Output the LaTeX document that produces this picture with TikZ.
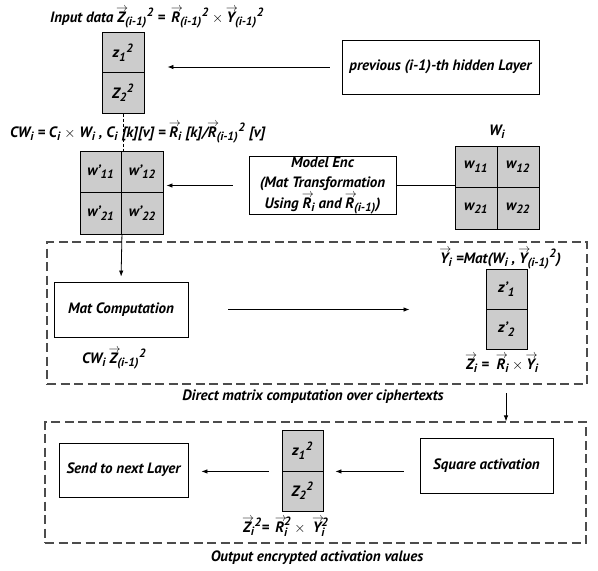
\documentclass[tikz,border=0pt]{standalone}
\usepackage{amsmath}
\usepackage{fontspec}
\setmainfont{PT Sans}
\usetikzlibrary{arrows.meta}
\DeclareMathSizes{15}{15}{12}{9}
\newcommand{\va}[1]{\text{\ooalign{#1\cr\hidewidth\kern2pt\raisebox{10.5pt}[0pt][0pt]{\fontsize{12}{12}\selectfont$\mathord{\rightarrow}$}\hidewidth\cr}}}
\newcommand{\ff}{\fontsize{15}{17}\selectfont\bfseries\itshape}
\newcommand{\fft}{\fontsize{15}{20.5}\selectfont\bfseries\itshape}
\begin{document}
\begin{tikzpicture}[x=1pt,y=-1pt,
  box/.style={draw, line width=0.9pt, inner sep=0pt, align=center, font=\ff},
  cell/.style={draw, line width=0.9pt, fill=black!20, inner sep=0pt, font=\ff},
  dbox/.style={draw=black!70, line width=1.2pt, dash pattern=on 9pt off 4.5pt, inner sep=0pt},
  lbl/.style={inner sep=0pt, font=\ff},
  arr/.style={-{Latex[length=6pt,width=4.5pt]}, line width=0.8pt},
  ln/.style={line width=0.8pt}]
\useasboundingbox (0,0) rectangle (598,571);
% groups
\node[dbox, minimum width=540pt, minimum height=142pt] (grp1) at (317,313) {};
\node[dbox, minimum width=541pt, minimum height=121pt] (grp2) at (315.5,482.5) {};
% top input vector
\node[lbl, anchor=base west] (inlbl) at (50,22) {Input data $\va{Z}_{\text{(i-1)}}{}^{\text{2}}$ = \,$\va{R}_{\text{(i-1)}}{}^{\text{2}}\times\va{Y}_{\text{(i-1)}}{}^{\text{2}}$};
\node[cell, minimum width=42pt, minimum height=40.5pt] (zt1) at (123,52.5) {z$_{\text{1}}{}^{\text{2}}$};
\node[cell, minimum width=42pt, minimum height=40.5pt] (zt2) at (123,93) {Z$_{\text{2}}{}^{\text{2}}$};
\node[box, minimum width=197pt, minimum height=54pt] (prev) at (440.5,67) {previous (i-1)-th hidden Layer};
\draw[arr, shorten <=12pt, shorten >=23pt] (prev.west) -- (prev.west -| zt1.east);
% CW label
\node[lbl, anchor=base west] (cwlbl) at (10,137) {CW$_{\text{i}}$ = C$_{\text{i}}$ $\times$ W$_{\text{i}}$ , C$_{\text{i}}$ [k][v] = $\va{R}_{\text{i}}$ [k]/$\va{R}_{\text{(i-1)}}{}^{\text{2}}$ [v]};
% w' matrix
\node[cell, minimum width=41.5pt, minimum height=41.5pt] (wp11) at (100.75,171.75) {w’$_{\text{11}}$};
\node[cell, minimum width=41.5pt, minimum height=41.5pt] (wp12) at (142.25,171.75) {w’$_{\text{12}}$};
\node[cell, minimum width=41.5pt, minimum height=41.5pt] (wp21) at (100.75,213.25) {w’$_{\text{21}}$};
\node[cell, minimum width=41.5pt, minimum height=41.5pt] (wp22) at (142.25,213.25) {w’$_{\text{22}}$};
\draw[ln, densely dashed, line width=0.5pt] (zt2.south) -- (zt2.south |- wp11.north);
% Model enc
\node[box, font=\fft, minimum width=147pt, minimum height=55pt] (menc) at (322.5,185.5) {Model Enc\\(Mat Transformation\\Using $\va{R}_{\text{i}}$ and $\va{R}_{\text{(i-1)}}$)};
% W matrix
\node[lbl, anchor=base] (wlbl) at (497,135) {W$_{\text{i}}$};
\node[cell, minimum width=42pt, minimum height=41.5pt] (w11) at (476,166.75) {w$_{\text{11}}$};
\node[cell, minimum width=42pt, minimum height=41.5pt] (w12) at (518,166.75) {w$_{\text{12}}$};
\node[cell, minimum width=42pt, minimum height=41.5pt] (w21) at (476,208.25) {w$_{\text{21}}$};
\node[cell, minimum width=42pt, minimum height=41.5pt] (w22) at (518,208.25) {w$_{\text{22}}$};
\draw[ln] (menc.east) -- (menc.east -| w11.west);
\draw[arr, shorten <=16pt, shorten >=3pt] (menc.west) -- (menc.west -| wp12.east);
% group 1 contents
\node[box, minimum width=134pt, minimum height=55pt] (matc) at (121,309.5) {Mat Computation};
\draw[arr, shorten >=5pt] (wp21.south east) -- (matc.north);
\node[lbl, anchor=base west] (cwz) at (82,363) {CW$_{\text{i}}$ $\va{Z}_{\text{(i-1)}}{}^{\text{2}}$};
\node[lbl, anchor=base west] (ylbl) at (440,263) {$\va{Y}_{\text{i}}$ =Mat(W$_{\text{i}}$ , $\va{Y}_{\text{(i-1)}}{}^{\text{2}}$)};
\node[cell, minimum width=41pt, minimum height=40pt] (zp1) at (506.5,289) {z’$_{\text{1}}$};
\node[cell, minimum width=41pt, minimum height=40.5pt] (zp2) at (506.5,329.25) {z’$_{\text{2}}$};
\draw[arr, shorten <=40pt, shorten >=76pt] (matc.east) -- (matc.east -| zp1.west);
\node[lbl, anchor=base west] (zlbl) at (466,369) {$\va{Z}_{\text{i}}$ =\ \ $\va{R}_{\text{i}}\times\va{Y}_{\text{i}}$};
\node[lbl, anchor=base] (g1cap) at (313,400) {Direct matrix computation over ciphertexts};
\coordinate (a1) at (506,393);
\draw[arr] (a1) -- (a1 |- grp2.north);
% group 2 contents
\node[box, minimum width=129pt, minimum height=54pt] (send) at (123.5,470) {Send to next Layer};
\node[cell, minimum width=41pt, minimum height=41pt] (zs1) at (302.5,450.5) {z$_{\text{1}}{}^{\text{2}}$};
\node[cell, minimum width=41pt, minimum height=40pt] (zs2) at (302.5,491) {Z$_{\text{2}}{}^{\text{2}}$};
\node[box, minimum width=133pt, minimum height=55pt] (sq) at (486.5,465.5) {Square activation};
\draw[arr, shorten <=16pt, shorten >=12pt] (zs1.south east -| sq.west) -- (zs1.south east);
\draw[arr, shorten <=13pt, shorten >=13pt] (zs1.south west) -- (zs1.south west -| send.east);
\node[lbl, anchor=base west] (zsqlbl) at (243,532) {$\va{Z}_{\text{i}}{}^{\text{2}}$= \,$\va{R}_{\text{i}}^{\text{2}}\times\;\va{Y}_{\text{i}}^{\text{2}}$};
\node[lbl, anchor=base] (g2cap) at (317,561) {Output encrypted activation values};
\end{tikzpicture}
\end{document}
